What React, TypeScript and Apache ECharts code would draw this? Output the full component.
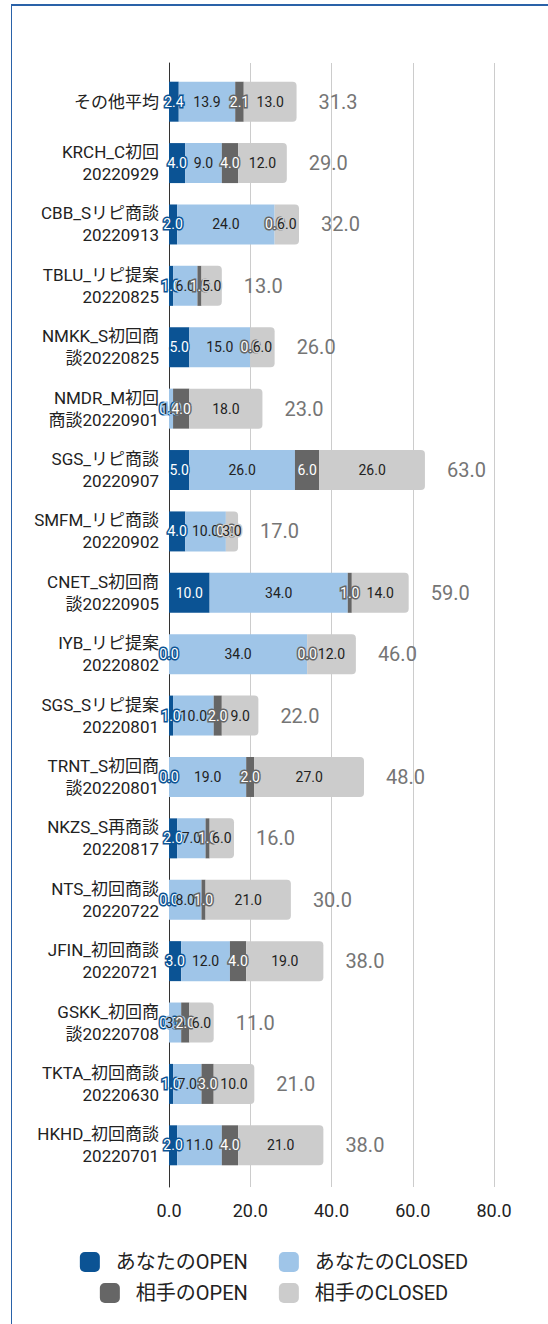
import React, { useEffect, useRef } from "react";
import * as echarts from "echarts";

const categories = [
  "その他平均",
  "KRCH_C初回\n20220929",
  "CBB_Sリピ商談\n20220913",
  "TBLU_リピ提案\n20220825",
  "NMKK_S初回商\n談20220825",
  "NMDR_M初回\n商談20220901",
  "SGS_リピ商談\n20220907",
  "SMFM_リピ商談\n20220902",
  "CNET_S初回商\n談20220905",
  "IYB_リピ提案\n20220802",
  "SGS_Sリピ提案\n20220801",
  "TRNT_S初回商\n談20220801",
  "NKZS_S再商談\n20220817",
  "NTS_初回商談\n20220722",
  "JFIN_初回商談\n20220721",
  "GSKK_初回商\n談20220708",
  "TKTA_初回商談\n20220630",
  "HKHD_初回商談\n20220701",
];

const youOpen = [2.4, 4, 2, 1, 5, 0, 5, 4, 10, 0, 1, 0, 2, 0, 3, 0, 1, 2];
const youClosed = [13.9, 9, 24, 6, 15, 1, 26, 10, 34, 34, 10, 19, 7, 8, 12, 3, 7, 11];
const theirOpen = [2.1, 4, 0, 1, 0, 4, 6, 0, 1, 0, 2, 2, 1, 1, 4, 2, 3, 4];
const theirClosed = [13.0, 12, 6, 5, 6, 18, 26, 3, 14, 12, 9, 27, 6, 21, 19, 6, 10, 21];
const totals = [31.3, 29, 32, 13, 26, 23, 63, 17, 59, 46, 22, 48, 16, 30, 38, 11, 21, 38];

const xTicks = { min: 0, max: 80, interval: 20 };

const seriesNames = ["あなたのOPEN", "あなたのCLOSED", "相手のOPEN", "相手のCLOSED"];
const seriesColors = ["#0b5394", "#9fc5e8", "#666666", "#cccccc"];
const labelColors = ["#ffffff", "#222222", "#ffffff", "#222222"];

const FONT = "Roboto, 'Noto Sans CJK JP', 'Noto Sans', sans-serif";

export default function App() {
  const ref = useRef<HTMLDivElement>(null);

  useEffect(() => {
    if (!ref.current) return;
    const chart = echarts.init(ref.current, undefined, { renderer: "svg" });
    const datasets = [youOpen, youClosed, theirOpen, theirClosed];

    const segSeries = datasets.map((d, i) => ({
      name: seriesNames[i],
      type: "bar",
      stack: "s",
      xAxisIndex: 0,
      yAxisIndex: 0,
      barWidth: 40,
      data: d,
      itemStyle: {
        color: seriesColors[i],
        borderRadius: i === 3 ? [0, 4, 4, 0] : 0,
      },
      label: {
        show: true,
        position: "inside",
        formatter: (p: any) => Number(p.value).toFixed(1),
        color: labelColors[i],
        fontSize: 14,
        fontFamily: FONT,
        textBorderColor: seriesColors[i],
        textBorderWidth: 3,
      },
    }));

    const totalSeries = {
      name: "total",
      type: "bar",
      stack: "s",
      xAxisIndex: 0,
      yAxisIndex: 0,
      barWidth: 40,
      data: totals.map(() => 0),
      itemStyle: { color: "transparent" },
      silent: true,
      label: {
        show: true,
        position: "right",
        distance: 22,
        formatter: (p: any) => totals[p.dataIndex].toFixed(1),
        color: "#757575",
        fontSize: 20,
        fontFamily: FONT,
      },
    };

    const legendText = { fontSize: 20, color: "#222", fontFamily: FONT, padding: [0, 0, 0, 11] };

    chart.setOption({
      animation: false,
      textStyle: { fontFamily: FONT },
      legend: [
        {
          data: [seriesNames[0], seriesNames[1]],
          left: "center",
          top: 1247,
          itemWidth: 20,
          itemHeight: 20,
          itemGap: 31,
          icon: "roundRect",
          textStyle: legendText,
        },
        {
          data: [seriesNames[2], seriesNames[3]],
          left: "center",
          top: 1278,
          itemWidth: 20,
          itemHeight: 20,
          itemGap: 31,
          icon: "roundRect",
          textStyle: legendText,
        },
      ],
      grid: [
        { left: 169, right: 54, top: 71, bottom: 148, containLabel: false },
        { left: 169, right: 54, top: 63, bottom: 137, containLabel: false },
      ],
      xAxis: [
        {
          type: "value",
          gridIndex: 0,
          min: xTicks.min,
          max: xTicks.max,
          interval: xTicks.interval,
          show: false,
        },
        {
          type: "value",
          gridIndex: 1,
          min: xTicks.min,
          max: xTicks.max,
          interval: xTicks.interval,
          axisLine: { show: false },
          axisTick: { show: false },
          splitLine: { show: true, lineStyle: { color: "#cccccc", width: 1 } },
          axisLabel: {
            formatter: (v: number) => v.toFixed(1),
            fontSize: 18,
            color: "#222",
            margin: 14,
            fontFamily: FONT,
          },
        },
      ],
      yAxis: [
        {
          type: "category",
          gridIndex: 0,
          data: categories,
          inverse: true,
          axisLine: { show: false },
          axisTick: { show: false },
          axisLabel: {
            interval: 0,
            fontSize: 17,
            lineHeight: 22,
            color: "#222",
            margin: 10,
            fontFamily: FONT,
            align: "right",
          },
        },
        {
          type: "category",
          gridIndex: 1,
          data: [""],
          axisLine: { show: true, lineStyle: { color: "#333333", width: 1 } },
          axisTick: { show: false },
          axisLabel: { show: false },
        },
      ],
      series: [...segSeries, totalSeries],
    });

    return () => chart.dispose();
  }, []);

  return (
    <div style={{ position: "absolute", left: 0, top: 0, width: 548, height: 1324, background: "#fff" }}>
      <div
        style={{
          position: "absolute",
          left: 11,
          top: 4,
          width: 537,
          height: 1320,
          borderTop: "2px solid #2a62a8",
          borderLeft: "1px solid #2a62a8",
          boxSizing: "border-box",
        }}
      />
      <div ref={ref} style={{ position: "absolute", left: 0, top: 0, width: 548, height: 1324 }} />
    </div>
  );
}
